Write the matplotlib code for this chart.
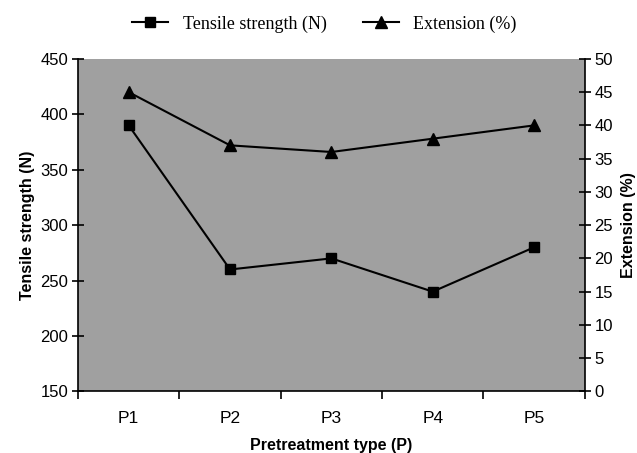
import matplotlib
matplotlib.use("Agg")
import matplotlib.pyplot as plt
from matplotlib.lines import Line2D

categories = ["P1", "P2", "P3", "P4", "P5"]
tensile_strength = [390, 260, 270, 240, 280]
extension = [45, 37, 36, 38, 40]

plt.rcParams["font.family"] = "Liberation Sans"

fig = plt.figure(figsize=(6.37, 4.53), dpi=100)
ax = fig.add_axes([0.1225, 0.136, 0.7955, 0.734])
ax2 = ax.twinx()

x = list(range(1, len(categories) + 1))
ax.plot(x, tensile_strength, color="black", lw=1.5, marker="s", ms=7)
ax2.plot(x, extension, color="black", lw=1.5, marker="^", ms=8)

ax.set_facecolor("#a0a0a0")
ax.set_xlim(0.5, len(categories) + 0.5)
ax.set_ylim(150, 450)
ax2.set_ylim(0, 50)
ax.set_yticks(range(150, 451, 50))
ax2.set_yticks(range(0, 51, 5))

# category labels between boundary ticks
ax.set_xticks([i + 0.5 for i in range(len(categories) + 1)])
ax.set_xticklabels([])
ax.set_xticks(x, minor=True)
ax.set_xticklabels(categories, minor=True)
ax.tick_params(axis="x", which="major", direction="out", length=6, width=1.2)
ax.tick_params(axis="x", which="minor", length=0, pad=14, labelsize=12.5)
ax.tick_params(axis="y", direction="inout", length=8, width=1.2, labelsize=12, pad=3)
ax2.tick_params(axis="y", direction="inout", length=8, width=1.2, labelsize=12, pad=3)

for a in (ax, ax2):
    for side in ("top", "right"):
        a.spines[side].set_visible(False)
    a.spines["left"].set_linewidth(1.2)
    a.spines["bottom"].set_linewidth(1.2)
ax2.spines["right"].set_visible(True)
ax2.spines["right"].set_linewidth(1.2)
ax2.spines["left"].set_visible(False)
ax2.spines["bottom"].set_visible(False)

ax.set_xlabel("Pretreatment type (P)", fontweight="bold", fontsize=11.5, labelpad=9)
ax.set_ylabel("Tensile strength (N)", fontweight="bold", fontsize=11.5, labelpad=4)
ax2.set_ylabel("Extension (%)", fontweight="bold", fontsize=11.5, rotation=90, labelpad=6)

handles = [
    Line2D([], [], color="black", lw=1.5, marker="s", ms=7),
    Line2D([], [], color="black", lw=1.5, marker="^", ms=8),
]
fig.legend(handles, ["Tensile strength (N)", "Extension (%)"],
           loc="center", bbox_to_anchor=(0.509, 0.947), ncol=2, frameon=False,
           prop={"family": "Liberation Serif", "size": 13},
           handlelength=2.0, handletextpad=0.8, columnspacing=2.0)

fig.savefig("out.png", dpi=100)
